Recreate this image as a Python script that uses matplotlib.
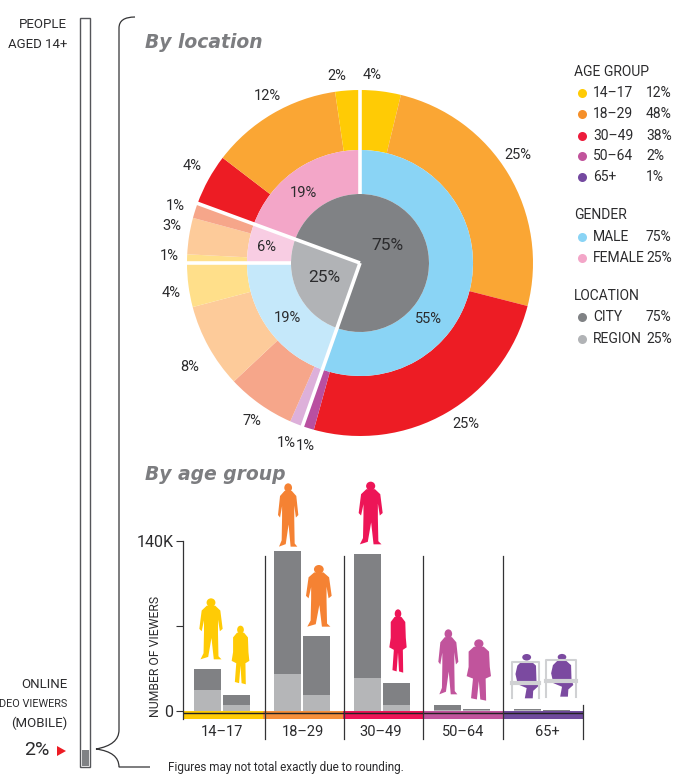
import numpy as np
import matplotlib
matplotlib.use("Agg")
from matplotlib import pyplot as plt
from matplotlib.patches import Ellipse, Polygon, PathPatch
from matplotlib.path import Path

plt.rcParams['font.family'] = ['Roboto', 'DejaVu Sans']

# shares as drawn, clockwise from 12 o'clock
outer_values = [3.8, 25.2, 25.3, 1.1, 1.2, 6.4, 7.9, 4.1, 0.8, 3.4, 1.4, 4.8, 12.3, 2.3]
outer_labels = ["4%", "25%", "25%", "1%", "1%", "7%", "8%", "4%", "1%", "3%", "1%", "4%", "12%", "2%"]
outer_colors = ["#FFCB05", "#FAA634", "#ED1C24", "#B94FA0", "#DDB0DA", "#F6A68A", "#FDCB9A", "#FFDF8A",
                "#FFDF8A", "#FDCB9A", "#F6A68A", "#ED1C24", "#FAA634", "#FFCB05"]
gender_values = [55.4, 19.6, 5.6, 19.4]
gender_labels = ["55%", "19%", "6%", "19%"]
gender_colors = ["#8AD4F5", "#C5E8FA", "#F8CDE3", "#F3A6C8"]
location_values = [55.4, 25.2, 19.4]
location_colors = ["#808285", "#B1B3B6", "#808285"]

age_groups = ["14-17", "18-29", "30-49", "50-64", "65+"]
age_shares = ["12%", "48%", "38%", "2%", "1%"]
age_colors = ["#FFCB05", "#F58F2A", "#ED1C3C", "#C1549C", "#7449A0"]
gender_names = ["MALE", "FEMALE"]
gender_shares = ["75%", "25%"]
location_names = ["CITY", "REGION"]
location_shares = ["75%", "25%"]

# thousands of viewers
male_city = [17, 101.2, 102.3, 3.9, 1.0]
male_region = [17, 30.5, 26.7, 0.5, 0.4]
female_city = [8.8, 48.4, 18.4, 1.0, 0.5]
female_region = [4.4, 13.2, 4.4, 0.4, 0.1]

band_colors = ["#FFCB05", "#F58F3A", "#ED1557", "#C1549C", "#6F4A9C"]
figure_colors = ["#FFCB05", "#F58233", "#ED1557", "#C1549C", "#7B4AA0"]

DARK = "#333335"
TEXT = "#2b2b2d"

fig = plt.figure(figsize=(6.83, 7.76), dpi=100)


def box(x0, y0, x1, y1):
    return [x0 / 683, 1 - y1 / 776, (x1 - x0) / 683, (y1 - y0) / 776]


# pie
pie_ax = fig.add_axes(box(180, 83, 540, 443))
pie_ax.pie(outer_values, colors=outer_colors, radius=173, startangle=90, counterclock=False,
           wedgeprops=dict(width=60, linewidth=0))
pie_ax.pie(gender_values, colors=gender_colors, radius=113, startangle=90, counterclock=False,
           wedgeprops=dict(width=44, linewidth=0))
pie_ax.pie(location_values, colors=location_colors, radius=69, startangle=90, counterclock=False,
           wedgeprops=dict(linewidth=0))
pie_ax.set_xlim(-180, 180)
pie_ax.set_ylim(-180, 180)

gender_edges = np.cumsum(gender_values) / 100 * 2 * np.pi
for edge, r0 in [(gender_edges[0], 0), (gender_edges[1], 69), (gender_edges[2], 0), (0, 69)]:
    pie_ax.plot([r0 * np.sin(edge), 176 * np.sin(edge)], [r0 * np.cos(edge), 176 * np.cos(edge)],
                color="white", lw=2.6, solid_capstyle='butt')

# bars
bar_ax = fig.add_axes(box(183, 541, 583, 719))
bar_ax.set_xlim(0, 5)
px_per_k = (710.7 - 541) / 140
bar_ax.set_ylim(-(719 - 710.7) / px_per_k, 140)
group_x = np.arange(5)
bar_w = 0.34
bar_ax.bar(group_x + 0.31, male_region, bar_w, color="#B5B6B8")
bar_ax.bar(group_x + 0.31, male_city, bar_w, bottom=male_region, color="#808184")
bar_ax.bar(group_x + 0.67, female_region, bar_w, color="#B5B6B8")
bar_ax.bar(group_x + 0.67, female_city, bar_w, bottom=female_region, color="#808184")
bar_ax.bar(group_x + 0.5, [-6.8] * 5, 1.0, color=band_colors)
bar_ax.axhline(-1.6, color="#222222", lw=1)
for s in ['top', 'right', 'bottom']:
    bar_ax.spines[s].set_visible(False)
bar_ax.spines['left'].set_color(DARK)
bar_ax.spines['left'].set_linewidth(0.9)
bar_ax.set_xticks([])
bar_ax.set_yticks([0, 70, 140])
bar_ax.set_yticklabels(["0", "", "140K"], fontsize=11.5, color=TEXT)
bar_ax.tick_params(axis='y', length=5, width=0.8, color=DARK, pad=2)
bar_ax.set_ylabel("NUMBER OF VIEWERS", fontsize=8.8, color=TEXT)
bar_ax.yaxis.set_label_coords(-0.052, 0.35)
bar_ax.patch.set_alpha(0)

# page overlay in pixels
ax = fig.add_axes([0, 0, 1, 1], zorder=5)
ax.set_xlim(0, 683)
ax.set_ylim(776, 0)
ax.axis('off')


def txt(x, y, s, size=10, ha='center', color=TEXT, **kw):
    ax.text(x, y, s, fontsize=size, ha=ha, va='center', color=color, **kw)


for (x, y), s in zip([(372, 75), (518, 155), (466, 424), (305, 446), (286, 443), (252, 421), (190, 367),
                      (171, 293), (169, 256), (172, 226), (175, 206), (192, 166), (267, 96), (337, 76)],
                     outer_labels):
    txt(x, y, s, 10.5)
for (x, y), s in zip([(428, 319), (287, 318), (266, 247), (303, 193)], gender_labels):
    txt(x, y, s, 10.5)
txt(387, 245, "75%", 12.5)
txt(324, 278, "25%", 12.5)

# titles
for x, y, s in [(145, 42, "By location"), (145, 474, "By age group")]:
    ax.text(x, y, s, fontsize=13.5, family='DejaVu Sans', weight='bold', style='italic',
            color="#7c7d80", va='center')

# legend
txt(574, 72, "AGE GROUP", 10, ha='left')
for y, g, v, c in zip([93, 114, 136, 156, 177], age_groups, age_shares, age_colors):
    ax.plot(582, y, 'o', ms=6.5, color=c, mew=0)
    txt(593, y, g.replace("-", "\u2013"), 10, ha='left')
    txt(646, y, v, 10, ha='left')
txt(574, 215, "GENDER", 10, ha='left')
for y, g, v, c in zip([237, 258], gender_names, gender_shares, ["#8AD4F5", "#F3A6C8"]):
    ax.plot(582, y, 'o', ms=6.5, color=c, mew=0)
    txt(593, y, g, 10, ha='left')
    txt(646, y, v, 10, ha='left')
txt(574, 296, "LOCATION", 10, ha='left')
for y, g, v, c in zip([317, 339], location_names, location_shares, ["#808285", "#B1B3B6"]):
    ax.plot(582, y, 'o', ms=6.5, color=c, mew=0)
    txt(593, y, g, 10, ha='left')
    txt(646, y, v, 10, ha='left')

# dividers and group labels under the band
for x in [265, 344, 423, 503]:
    ax.plot([x, x], [556, 739], color=DARK, lw=0.9)
ax.plot([583, 583], [705, 739], color=DARK, lw=0.9)
for x, g in zip([222, 303, 381, 463, 547], age_groups):
    txt(x, 732, g.replace("-", "\u2013"), 10.5)

# left column
ax.add_patch(Polygon([(80, 18), (90, 18), (90, 767), (80, 767)], closed=True, fc="white", ec="#55565a", lw=1))
ax.add_patch(Polygon([(81.5, 750), (88.5, 750), (88.5, 766), (81.5, 766)], closed=True, fc="#808285", ec="none"))
txt(67, 25, "PEOPLE", 9.5, ha='right')
txt(67, 45, "AGED 14+", 9.5, ha='right')
txt(67, 684, "ONLINE", 9.5, ha='right')
txt(67, 704, "DEO VIEWERS", 7.8, ha='right')
txt(67, 723, "(MOBILE)", 9.5, ha='right')
txt(37, 750, "2%", 14)
ax.add_patch(Polygon([(57, 746), (66, 751), (57, 756)], closed=True, fc="#ED1C24", ec="none"))

# bracket
V, C, L = Path.MOVETO, Path.CURVE3, Path.LINETO
bracket = Path([(135, 17), (119, 17), (119, 28), (119, 730), (119, 745), (96, 749),
                (119, 752), (119, 767), (150, 767)],
               [V, C, C, L, C, C, C, C, L])
ax.add_patch(PathPatch(bracket, fc="none", ec="#333335", lw=0.9))
txt(168, 768, "Figures may not total exactly due to rounding.", 8.5, ha='left')

# people figures, outlines in a unit box
man = [(0.32, 0.12), (0.68, 0.12), (0.9, 0.2), (1.0, 0.5), (0.88, 0.54), (0.8, 0.35), (0.8, 0.58),
       (0.82, 0.95), (0.95, 1.0), (0.62, 1.0), (0.52, 0.65), (0.38, 0.96), (0.05, 1.0), (0.18, 0.9),
       (0.2, 0.55), (0.2, 0.36), (0.1, 0.54), (0.0, 0.5), (0.1, 0.2)]
woman = [(0.3, 0.12), (0.7, 0.12), (0.92, 0.2), (0.95, 0.45), (1.0, 0.6), (0.78, 0.64), (0.8, 1.0),
         (0.56, 0.98), (0.5, 0.68), (0.42, 0.98), (0.18, 0.96), (0.26, 0.64), (0.0, 0.6), (0.08, 0.45),
         (0.08, 0.2)]
sitter = [(0.3, 0.2), (0.68, 0.2), (0.9, 0.3), (0.92, 0.62), (1.0, 0.74), (0.78, 0.84), (0.76, 1.0),
          (0.42, 1.0), (0.5, 0.78), (0.12, 0.7), (0.02, 0.48), (0.1, 0.3)]


def person(x0, y0, x1, y1, color, shape):
    w, h = x1 - x0, y1 - y0
    pts = [(x0 + px * w, y0 + py * h) for px, py in shape]
    ax.add_patch(Polygon(pts, closed=True, fc=color, ec="none"))
    head_y = 0.07 if shape is not sitter else 0.12
    ax.add_patch(Ellipse((x0 + 0.5 * w, y0 + head_y * h), 0.38 * w, 0.14 * h, fc=color, ec="none"))


def zx(v):
    return 130 + v / 3


def zy(v):
    return 460 + v / 3


for (a, b, c, d, col, sh) in [(208, 415, 278, 598, figure_colors[0], man), (305, 497, 358, 673, figure_colors[0], woman),
                              (444, 70, 505, 260, figure_colors[1], man), (528, 315, 605, 500, figure_colors[1], man),
                              (686, 65, 758, 253, figure_colors[2], man), (778, 448, 830, 638, figure_colors[2], woman),
                              (925, 508, 985, 703, figure_colors[3], man), (1010, 538, 1083, 722, figure_colors[3], woman)]:
    person(zx(a), zy(b), zx(c), zy(d), col, sh)

# seated pair with their chairs
for (a, b, c, d) in [(1145, 605, 1227, 715), (1248, 600, 1337, 710)]:
    x0, x1, y0, y1 = zx(a), zx(c), zy(b), zy(d)
    ax.plot([x0, x0, x1, x1], [y1, y0, y0, y1], color="#D0D1D3", lw=1.5)
    ax.plot([x0, x1], [y0 + 0.58 * (y1 - y0)] * 2, color="#D0D1D3", lw=3)
person(zx(1155), zy(575), zx(1225), zy(715), figure_colors[4], sitter)
person(zx(1262), zy(575), zx(1330), zy(710), figure_colors[4], sitter)

fig.savefig("out.png", dpi=100)
